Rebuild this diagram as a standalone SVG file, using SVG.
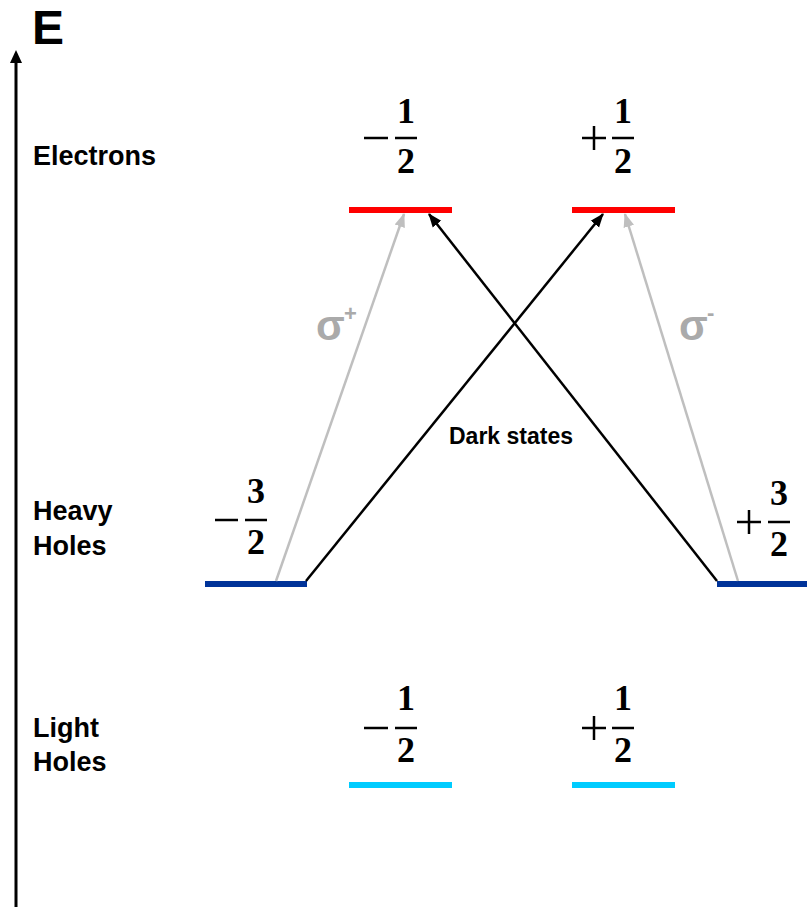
<svg xmlns="http://www.w3.org/2000/svg" width="807" height="907" viewBox="0 0 807 907">
<style>
.lbl{font-family:"Liberation Sans",Arial,sans-serif;font-weight:bold;font-size:27px;fill:#000}
.frac{font-family:"Liberation Serif","DejaVu Serif",serif;font-weight:bold;font-size:36px;fill:#000;text-anchor:middle}
.op{stroke:#000;stroke-width:2.5;fill:none}
.sig{font-family:"Liberation Sans",Arial,sans-serif;font-weight:bold;fill:#aaaaaa}
.lvl{stroke-width:6;fill:none}
</style>
<defs>
<marker id="ab" markerWidth="14" markerHeight="12" refX="12" refY="5" orient="auto" markerUnits="userSpaceOnUse" viewBox="0 0 13 10">
<path d="M0,0 L13,5 L0,10 Z" fill="#000"/>
</marker>
<marker id="ag" markerWidth="14" markerHeight="12" refX="12" refY="5" orient="auto" markerUnits="userSpaceOnUse" viewBox="0 0 13 10">
<path d="M0,0 L13,5 L0,10 Z" fill="#bfbfbf"/>
</marker>
</defs>

<g id="axis">
<line x1="16" y1="907" x2="16" y2="62" stroke="#000" stroke-width="3"/>
<path d="M10,63 L16,50 L22,63 Z" fill="#000"/>
<text x="32" y="44" font-family="Liberation Sans,Arial,sans-serif" font-weight="bold" font-size="48">E</text>
</g>

<g id="labels">
<text class="lbl" x="33" y="165">Electrons</text>
<text class="lbl" x="33" y="520">Heavy</text>
<text class="lbl" x="33" y="555">Holes</text>
<text class="lbl" x="33" y="737">Light</text>
<text class="lbl" x="33" y="771">Holes</text>
</g>

<g id="electron-minus">
<line class="lvl" x1="349" y1="210" x2="452" y2="210" stroke="#ff0000"/>
<line class="op" x1="364" y1="138" x2="388" y2="138"/>
<line class="op" x1="395" y1="138" x2="417" y2="138"/>
<text class="frac" x="406" y="123">1</text>
<text class="frac" x="406" y="173">2</text>
</g>
<g id="electron-plus">
<line class="lvl" x1="572" y1="210" x2="675" y2="210" stroke="#ff0000"/>
<line class="op" x1="582" y1="138" x2="606" y2="138"/>
<line class="op" x1="594" y1="126" x2="594" y2="150"/>
<line class="op" x1="612" y1="138" x2="634" y2="138"/>
<text class="frac" x="623" y="123">1</text>
<text class="frac" x="623" y="173">2</text>
</g>

<g id="hh-minus">
<line class="lvl" x1="205" y1="584" x2="307" y2="584" stroke="#003399"/>
<line class="op" x1="215" y1="520" x2="238" y2="520"/>
<line class="op" x1="245" y1="520" x2="267" y2="520"/>
<text class="frac" x="256" y="503">3</text>
<text class="frac" x="256" y="554">2</text>
</g>
<g id="hh-plus">
<line class="lvl" x1="717" y1="584" x2="807" y2="584" stroke="#003399"/>
<line class="op" x1="737" y1="522" x2="761" y2="522"/>
<line class="op" x1="749" y1="510" x2="749" y2="534"/>
<line class="op" x1="768" y1="522" x2="790" y2="522"/>
<text class="frac" x="779" y="505">3</text>
<text class="frac" x="779" y="556">2</text>
</g>

<g id="lh-minus">
<line class="lvl" x1="349" y1="785" x2="452" y2="785" stroke="#00ccff"/>
<line class="op" x1="364" y1="728" x2="388" y2="728"/>
<line class="op" x1="395" y1="728" x2="417" y2="728"/>
<text class="frac" x="406" y="710">1</text>
<text class="frac" x="406" y="762">2</text>
</g>
<g id="lh-plus">
<line class="lvl" x1="572" y1="785" x2="675" y2="785" stroke="#00ccff"/>
<line class="op" x1="582" y1="728" x2="606" y2="728"/>
<line class="op" x1="594" y1="716" x2="594" y2="740"/>
<line class="op" x1="612" y1="728" x2="634" y2="728"/>
<text class="frac" x="623" y="710">1</text>
<text class="frac" x="623" y="762">2</text>
</g>

<g id="connectors">
<line x1="276" y1="581" x2="404" y2="214" stroke="#bfbfbf" stroke-width="2.5" marker-end="url(#ag)"/>
<line x1="738" y1="581" x2="625" y2="214" stroke="#bfbfbf" stroke-width="2.5" marker-end="url(#ag)"/>
<line x1="306" y1="581" x2="603" y2="214" stroke="#000" stroke-width="2.5" marker-end="url(#ab)"/>
<line x1="717" y1="581" x2="429" y2="214" stroke="#000" stroke-width="2.5" marker-end="url(#ab)"/>
</g>

<g id="sigma-labels">
<text class="sig" x="316" y="340" font-size="42">σ</text>
<text class="sig" x="344" y="321" font-size="22">+</text>
<text class="sig" x="679" y="340" font-size="42">σ</text>
<text class="sig" x="707" y="320" font-size="22">-</text>
</g>

<g id="dark-label">
<text x="449" y="444" font-family="Liberation Sans,Arial,sans-serif" font-weight="bold" font-size="23">Dark states</text>
</g>
</svg>
